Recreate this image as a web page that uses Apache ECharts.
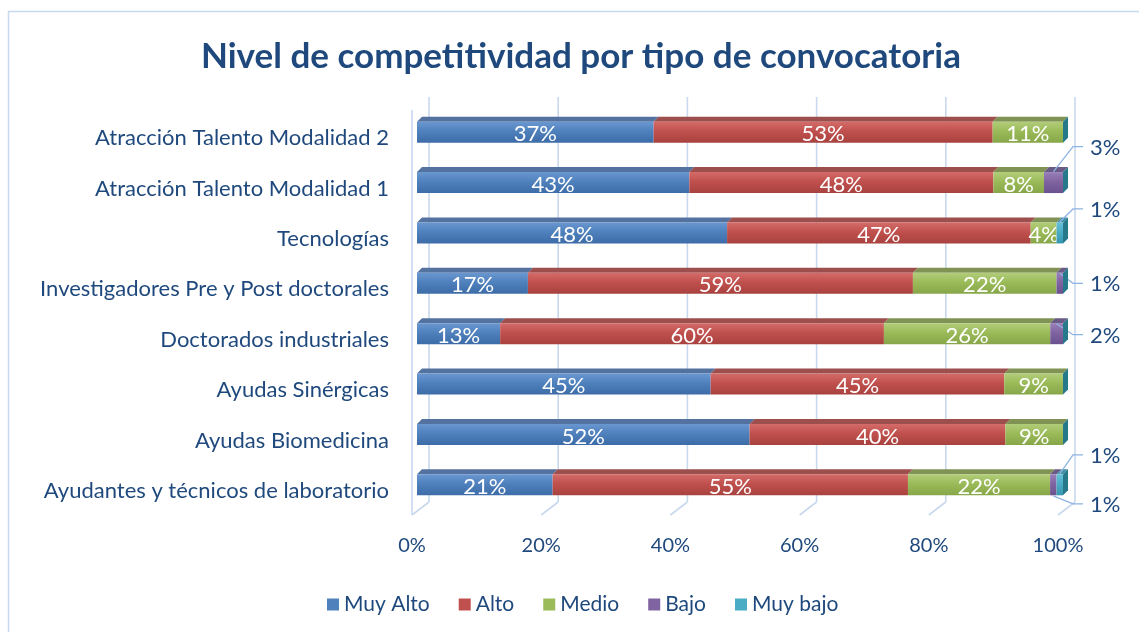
<!DOCTYPE html>
<html><head><meta charset="utf-8">
<script src="https://cdn.jsdelivr.net/npm/echarts@6/dist/echarts.min.js"></script>
<style>html,body{margin:0;padding:0;background:#fff}#c{width:1139px;height:632px}</style>
</head><body><div id="c"></div>
<script>
const categories = ['Atracción Talento Modalidad 2', 'Atracción Talento Modalidad 1', 'Tecnologías',
  'Investigadores Pre y Post doctorales', 'Doctorados industriales', 'Ayudas Sinérgicas',
  'Ayudas Biomedicina', 'Ayudantes y técnicos de laboratorio'];
const seriesNames = ['Muy Alto', 'Alto', 'Medio', 'Bajo', 'Muy bajo'];
const muyAlto = [37, 43, 48, 17, 13, 45, 52, 21];
const alto    = [53, 48, 47, 59, 60, 45, 40, 55];
const medio   = [11,  8,  4, 22, 26,  9,  9, 22];
const bajo    = [ 0,  3,  0,  1,  2,  0,  0,  1];
const muyBajo = [ 0,  0,  1,  0,  0,  0,  0,  1];
const xTicks = [0, 20, 40, 60, 80, 100];

// styling / layout (not data)
const FONT = 'Lato';
const TXT = '#1F497D';
const baseColors = ['#4F81BD', '#C0504D', '#9BBB59', '#8064A2', '#4BACC6'];
const grad = [
  ['#6a97d0', '#4f81bd', '#3d6ca8'],
  ['#d46c69', '#c0504d', '#a8423f'],
  ['#b2cd7a', '#9bbb59', '#86a649'],
  ['#9880b8', '#8064a2', '#6a518d'],
  ['#68c0d8', '#4bacc6', '#3696b0']
];
const topColors = ['#54729f', '#9c4f4c', '#809355', '#6a5a86', '#3f8ea4'];
const sideColor = '#26788b';
// outside label placements: key "row-series": label dy / leader start dy (relative to row centre)
const outside = {
  '1-3': { ly: -36, sy: -11 },
  '2-4': { ly: -24, sy: -11 },
  '3-3': { ly: 0, sy: -10 },
  '4-3': { ly: 1, sy: -10 },
  '7-4': { ly: -30, sy: -11 },
  '7-3': { ly: 19, sy: 11 }
};

const rows = [muyAlto, alto, medio, bajo, muyBajo];
function buildSeg(si) {
  return categories.map((c, ci) => {
    const total = rows.reduce((s, r) => s + r[ci], 0);
    let start = 0;
    for (let k = 0; k < si; k++) start += rows[k][ci];
    return [ci, start / total * 100, (start + rows[si][ci]) / total * 100, rows[si][ci]];
  });
}

const H = 21, D = 5;
function segRender(si) {
  return function (params, api) {
    const ci = api.value(0), st = api.value(1), en = api.value(2), raw = api.value(3);
    const a = api.coord([st, ci]), b = api.coord([en, ci]);
    const x0 = a[0], x1 = b[0], yc = a[1];
    const yt = yc - H / 2;
    const ch = [];
    ch.push({ type: 'polygon', shape: { points: [[x0, yt], [x1, yt], [x1 + D, yt - D], [x0 + D, yt - D]] },
      style: { fill: topColors[si] } });
    ch.push({ type: 'rect', shape: { x: x0, y: yt, width: x1 - x0, height: H },
      style: { fill: new echarts.graphic.LinearGradient(0, 0, 0, 1, [
        { offset: 0, color: grad[si][0] }, { offset: 0.45, color: grad[si][1] }, { offset: 1, color: grad[si][2] }]) } });
    if (si === rows.length - 1) {
      ch.push({ type: 'polygon', shape: { points: [[x1, yt], [x1 + D, yt - D], [x1 + D, yt + H - D], [x1, yt + H]] },
        style: { fill: sideColor } });
    }
    const key = ci + '-' + si;
    if (raw > 0) {
      if (outside[key]) {
        const o = outside[key];
        const xEnd = api.coord([100, ci])[0];
        const mx = (x0 + x1) / 2;
        const ex = xEnd + 10, ly = yc + o.ly;
        ch.push({ type: 'polyline', shape: { points: [[mx, yc + o.sy], [ex, ly], [ex + 10, ly]] },
          style: { stroke: '#8db3e2', lineWidth: 1.3, fill: null } });
        ch.push({ type: 'text', style: { text: raw + '%', x: xEnd + 27, y: ly + 1, fill: TXT,
          font: '22px ' + FONT, align: 'left', verticalAlign: 'middle' } });
      } else {
        ch.push({ type: 'text', style: { text: raw + '%', x: (x0 + x1) / 2, y: yc + 2, fill: '#ffffff',
          font: '22px ' + FONT, align: 'center', verticalAlign: 'middle' } });
      }
    }
    return { type: 'group', children: ch };
  };
}

function gridRender(params, api) {
  const v = api.value(0);
  const p = api.coord([v, 0]);
  const cs = params.coordSys;
  const xb = p[0] + 12, xf = p[0] - 5;
  const yTop = cs.y - 10, yBack = cs.y + cs.height - 8, yFront = cs.y + cs.height + 5;
  const st = { stroke: '#c8d9ee', lineWidth: 1.6 };
  const ch = [
    { type: 'line', shape: { x1: xb, y1: yTop, x2: xb, y2: yBack }, style: st },
    { type: 'line', shape: { x1: xb, y1: yBack, x2: xf, y2: yFront }, style: st }
  ];
  if (v === 0) ch.push({ type: 'line', shape: { x1: xf, y1: yTop + 13, x2: xf, y2: yFront }, style: st });
  return { type: 'group', children: ch };
}

const series = [{
  type: 'custom', name: '_grid', silent: true, z: 1,
  data: xTicks.map(v => [v]), encode: { x: 0 }, renderItem: gridRender
}];
seriesNames.forEach((n, si) => {
  series.push({
    type: 'custom', name: n, z: 2 + si, itemStyle: { color: baseColors[si] },
    data: buildSeg(si), encode: { x: [1, 2], y: 0 }, renderItem: segRender(si)
  });
});

const chart = echarts.init(document.getElementById('c'));
chart.setOption({
  animation: false,
  backgroundColor: '#ffffff',
  textStyle: { fontFamily: FONT },
  title: {
    text: 'Nivel de competitividad por tipo de convocatoria',
    left: 576, top: 34, textAlign: 'center',
    textStyle: { fontFamily: FONT, fontWeight: 'bold', fontSize: 35, color: TXT }
  },
  graphic: [{ type: 'rect', shape: { x: 8.5, y: 11.5, width: 1200, height: 700 },
    style: { fill: null, stroke: '#c6d9f1', lineWidth: 1.5 }, silent: true, z: -1 }],
  legend: {
    data: seriesNames, icon: 'rect', itemWidth: 12, itemHeight: 12, itemGap: 29,
    top: 589, left: 322,
    textStyle: { fontFamily: FONT, fontSize: 21, color: TXT }
  },
  grid: { left: 417, right: 76, top: 107, bottom: 122, containLabel: false },
  xAxis: {
    type: 'value', min: 0, max: 100, interval: 20,
    axisLine: { show: false }, axisTick: { show: false }, splitLine: { show: false },
    axisLabel: { formatter: '{value}%', fontFamily: FONT, fontSize: 20, color: TXT, margin: 26, padding: [0, 10, 0, 0] }
  },
  yAxis: {
    type: 'category', data: categories, inverse: true,
    axisLine: { show: false }, axisTick: { show: false }, splitLine: { show: false },
    axisLabel: { fontFamily: FONT, fontSize: 22, color: TXT, margin: 28, verticalAlign: 'top', lineHeight: 12 }
  },
  series: series
});
</script></body></html>
